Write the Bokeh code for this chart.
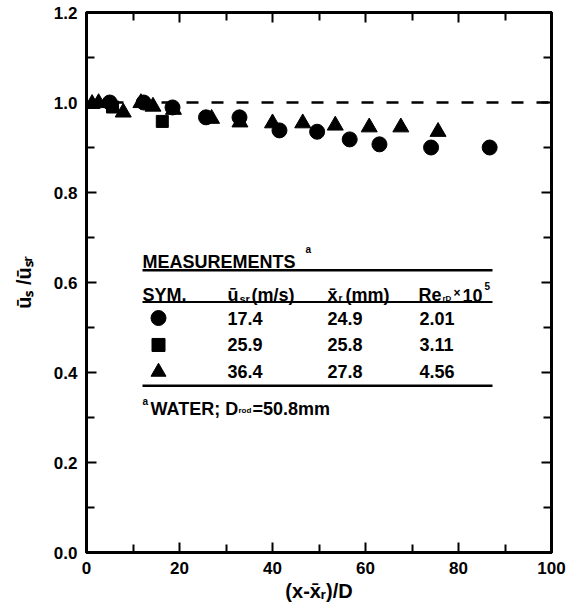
from bokeh.plotting import figure
from bokeh.models import (FixedTicker, LinearAxis, Range1d, Label, Span,
                          PrintfTickFormatter)
from bokeh.core.properties import value
from bokeh.embed import file_html
from bokeh.resources import INLINE

# ---------------- data ----------------
circle_x = [5.0, 12.3, 18.5, 25.7, 32.9, 41.5, 49.6, 56.6, 63.0, 74.1, 86.7]
circle_y = [1.000, 1.000, 0.989, 0.967, 0.967, 0.938, 0.935, 0.918, 0.907, 0.900, 0.900]

square_x = [5.6, 16.3]
square_y = [0.990, 0.958]

tri_x = [1.2, 2.6, 7.9, 11.7, 14.3, 18.7, 26.9, 33.0, 40.0, 46.5, 53.5, 60.8, 67.6, 75.6]
tri_y = [0.997, 0.999, 0.978, 0.999, 0.991, 0.984, 0.964, 0.956, 0.954, 0.954, 0.949,
         0.945, 0.945, 0.935]

x_ticks = [0, 20, 40, 60, 80, 100]
x_minor = [10, 30, 50, 70, 90]
y_ticks = [0.0, 0.2, 0.4, 0.6, 0.8, 1.0, 1.2]
y_minor = [0.1, 0.3, 0.5, 0.7, 0.9, 1.1]

x_title = "(x-x\u0304\u1d63)/D"
y_title = "\u016b\u209b /\u016b\u209b\u1d63"

table_markers = ["circle", "square", "triangle"]
table_usr = ["17.4", "25.9", "36.4"]
table_xr = ["24.9", "25.8", "27.8"]
table_re = ["2.01", "3.11", "4.56"]

FONT = "Liberation Sans"

W, H = 569, 604
p = figure(width=W, height=H, output_backend="svg", toolbar_location=None,
           x_range=Range1d(0, 100), y_range=Range1d(0, 1.2),
           min_border_left=86, min_border_right=18, min_border_top=12,
           min_border_bottom=51, background_fill_color="white",
           border_fill_color="white")
p.grid.visible = False
p.outline_line_color = "black"
p.outline_line_width = 3


def style_axis(ax, ticks, minor, fmt, labels=True):
    ax.ticker = FixedTicker(ticks=ticks, minor_ticks=minor)
    ax.axis_line_width = 3
    ax.axis_line_color = "black"
    ax.major_tick_in = 10
    ax.major_tick_out = 0
    ax.minor_tick_in = 8
    ax.minor_tick_out = 0
    ax.major_tick_line_width = 2
    ax.minor_tick_line_width = 2
    ax.major_tick_line_color = "black"
    ax.minor_tick_line_color = "black"
    ax.formatter = PrintfTickFormatter(format=fmt)
    ax.major_label_text_font = FONT
    ax.major_label_text_font_style = "bold"
    ax.major_label_text_font_size = "17px"
    ax.major_label_text_color = "black"
    ax.major_label_standoff = 9
    ax.axis_label_text_font = FONT
    ax.axis_label_text_font_style = "bold"
    ax.axis_label_text_font_size = "20px"
    ax.axis_label_text_color = "black"
    if not labels:
        ax.major_label_overrides = {t: "" for t in ticks}
        ax.major_label_standoff = 0
        ax.major_label_text_font_size = "1px"


style_axis(p.xaxis[0], x_ticks, x_minor, "%d")
style_axis(p.yaxis[0], y_ticks, y_minor, "%.1f")
p.xaxis[0].axis_label = x_title
p.xaxis[0].axis_label_standoff = 3
p.yaxis[0].axis_label = y_title
p.yaxis[0].axis_label_standoff = 16

top = LinearAxis()
style_axis(top, x_ticks, x_minor, "%d", labels=False)
right = LinearAxis()
style_axis(right, y_ticks, y_minor, "%.1f", labels=False)
p.add_layout(top, "above")
p.add_layout(right, "right")

# reference line at 1.0
p.add_layout(Span(location=1.0, dimension="width", line_color="black",
                  line_width=2.5, line_dash="12 13"))

# data markers
p.scatter(circle_x, circle_y, marker="circle", size=15, color="black")
p.scatter(square_x, square_y, marker="square", size=12, color="black")
p.scatter(tri_x, tri_y, marker="triangle", size=16, color="black")


# ---------------- layout helpers (reference px -> data) ----------------
def X(px):
    return (px - 86) / 4.65


def Y(py):
    return (553 - py) / 451.0


def lab(px, py, text, size, align="left", baseline="alphabetic"):
    p.add_layout(Label(x=X(px), y=Y(py), text=text,
                       text_font=FONT, text_font_style="bold",
                       text_font_size=f"{size}px", text_color="black",
                       text_align=align, text_baseline=baseline))


# ---------------- table / legend ----------------
lab(142, 262, "MEASUREMENTS", 18)
lab(305, 249, "a", 10)
p.segment(x0=[X(142)], y0=[Y(270)], x1=[X(492)], y1=[Y(270)], line_width=2.5, color="black")

hb = 295
lab(142, hb, "SYM.", 18)
lab(227, hb, "\u016b", 18)
lab(239, hb + 4, "sr", 11)
lab(251, hb, "(m/s)", 18)
lab(327, hb, "x\u0304", 18)
lab(338, hb + 3, "r", 10)
lab(345, hb, "(mm)", 18)
lab(418, hb, "Re", 18)
lab(442, hb + 3, "rD", 8)
lab(453, hb - 2, "\u00d7", 12)
lab(462, hb, "10", 18)
lab(484, hb - 9, "5", 10)
p.segment(x0=[X(142)], y0=[Y(302)], x1=[X(492)], y1=[Y(302)], line_width=2, color="black")

row_py = [318, 345, 372]
row_y = [Y(v) for v in row_py]
for m, yy in zip(table_markers, row_y):
    p.scatter([X(158)], [yy], marker=m, size=15 if m != "square" else 13, color="black")
p.text(x=[X(227)] * 3, y=row_y, text=table_usr, text_font=value(FONT),
       text_font_style="bold", text_font_size="18px", text_baseline="middle",
       text_color="black")
p.text(x=[X(327)] * 3, y=row_y, text=table_xr, text_font=value(FONT),
       text_font_style="bold", text_font_size="18px", text_baseline="middle",
       text_color="black")
p.text(x=[X(419)] * 3, y=row_y, text=table_re, text_font=value(FONT),
       text_font_style="bold", text_font_size="18px", text_baseline="middle",
       text_color="black")
p.segment(x0=[X(142)], y0=[Y(386)], x1=[X(492)], y1=[Y(386)], line_width=2.5, color="black")

fb = 409
lab(142, fb - 7, "a", 10)
lab(150, fb, "WATER; D", 18)
lab(238, fb + 2, "rod", 8)
lab(252, fb, "=50.8mm", 18)

open("out.html", "w").write(file_html(p, INLINE))
